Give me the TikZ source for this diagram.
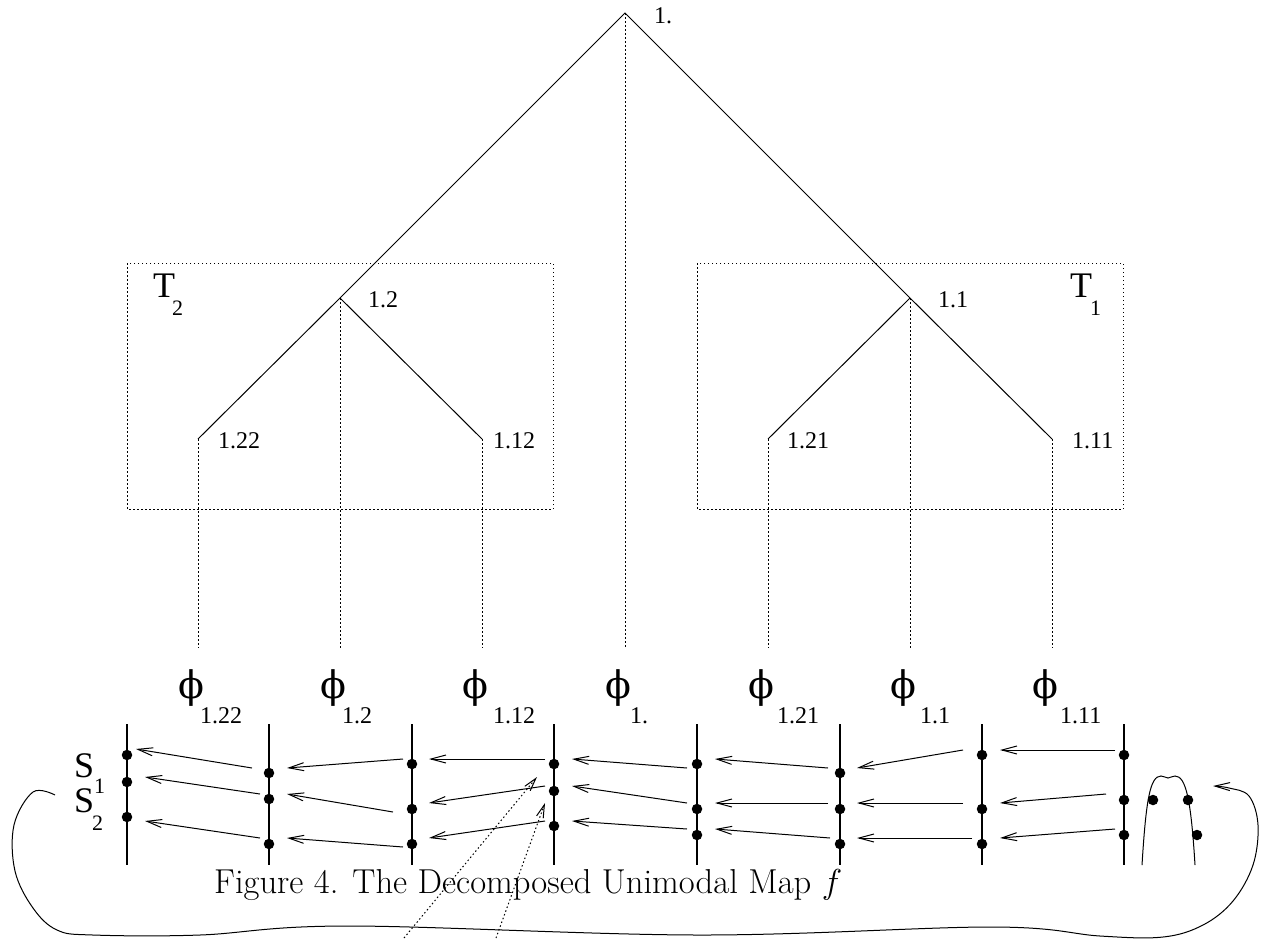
\RequirePackage{fix-cm}
\documentclass[tikz,border=0pt]{standalone}
\usepackage{fontspec}
\newfontfamily\tms{Liberation Serif}
\newfontfamily\phf{DejaVu Serif}
\usetikzlibrary{arrows.meta}
\begin{document}
\begin{tikzpicture}[x=1pt,y=-1pt,
  tree/.style={line width=1pt},
  dots/.style={line width=1pt,dash pattern=on 1.5pt off 2.5pt},
  bold/.style={line width=2.5pt},
  dotn/.style={circle,fill,inner sep=0pt,minimum size=10.5pt},
  arr/.style={line width=1pt,-{Straight Barb[length=15pt,width=8pt]}},
  darr/.style={dots,-{Straight Barb[length=13pt,width=7pt]}},
  lab/.style={font=\tms\fontsize{24}{24}\selectfont,inner sep=0pt,anchor=base west},
  big/.style={font=\tms\fontsize{36}{36}\selectfont,inner sep=0pt,anchor=base west},
  sub/.style={font=\tms\fontsize{22}{22}\selectfont,inner sep=0pt,anchor=base west},
  phil/.style={font=\phf\fontsize{38}{38}\selectfont,inner sep=0pt,anchor=center},
  captext/.style={font=\fontsize{34.6}{35}\selectfont,inner sep=0pt,anchor=base west}]
\useasboundingbox (0,0) rectangle (1276,938);
% tree nodes
\coordinate (n1) at (625,13);
\coordinate (n12) at (340,298);
\coordinate (n11) at (910,298);
\coordinate (n122) at (198,439);
\coordinate (n112) at (482,439);
\coordinate (n121) at (768,439);
\coordinate (n111) at (1052,439);
\coordinate (e) at (0,648);
\draw[tree] (n122) -- (n12) -- (n1) -- (n11) -- (n111);
\draw[tree] (n12) -- (n112);
\draw[tree] (n11) -- (n121);
\foreach \n in {n1,n12,n11,n122,n112,n121,n111}
  \draw[dots] (\n) -- (\n |- e);
% boxes
\draw[dots] (127,263) rectangle (553,509);
\draw[dots] (697,263) rectangle (1123,509);
% tree labels
\node[lab] (l1) at (654,23) {1.};
\node[lab] (l12) at (368,307) {1.2};
\node[lab] (l11) at (938,307) {1.1};
\node[lab] (l122) at (218,448) {1.22};
\node[lab] (l112) at (493,448) {1.12};
\node[lab] (l121) at (787,448) {1.21};
\node[lab] (l111) at (1072,448) {1.11};
\node[big] (t2) at (153,297) {T};
\node[sub] (t2s) at (172,315) {2};
\node[big] (t1) at (1070,297) {T};
\node[sub] (t1s) at (1090,315) {1};
% phi labels
\foreach \x/\s/\o in {198/1.22/2,340/1.2/2,482/1.12/11,625/1./5,768/1.21/9,910/1.1/10,1052/1.11/8}{
  \node[phil] (p\x) at (\x-7,688) {ϕ};
  \node[lab] (ps\x) at (\x+\o,723) {\s};
}
% S labels
\node[big] (s1) at (74,777) {S};
\node[sub] (s1s) at (94,793) {1};
\node[big] (s2) at (74,812) {S};
\node[sub] (s2s) at (92,830) {2};
% vertical bold lines and dots
\foreach \x/\a/\b/\c [count=\j] in {127/755/782/817,269/773/799/844,412/764/809/844,554/764/791/826,697/764/809/835,840/773/809/844,982/755/809/844,1124/755/800/835}{
  \coordinate (top\j) at (\x,724);
  \coordinate (bot\j) at (\x,865);
  \draw[bold] (top\j) -- (bot\j);
  \node[dotn] (d\j a) at (\x,\a) {};
  \node[dotn] (d\j b) at (\x,\b) {};
  \node[dotn] (d\j c) at (\x,\c) {};
}
% arrows
\foreach \tx/\ty/\hx/\hy [count=\i] in {
  252/768/136/749, 260/794/145/777, 260/838/145/821,
  403/759/287/768, 393/812/287/794, 403/847/287/838,
  545/759/429/759, 545/786/429/803, 545/821/429/838,
  687/768/572/759, 687/803/572/786, 687/829/572/821,
  828/768/715/759, 828/803/715/803, 830/838/715/829,
  963/750/857/768, 963/803/857/803, 972/838/857/838,
  1115/750/1000/750, 1106/794/1000/803, 1115/829/1000/838}{
  \coordinate (ta\i) at (\tx,\ty);
  \coordinate (ha\i) at (\hx,\hy);
  \draw[arr] (ta\i) -- (ha\i);
}
% dotted arrows
\coordinate (q1) at (404,938);
\coordinate (q1h) at (537,777);
\coordinate (q2) at (496,938);
\coordinate (q2h) at (545,803);
\draw[darr] (q1) -- (q1h);
\draw[darr] (q2) -- (q2h);
% unimodal graph
\draw[tree] (1142,865) .. controls (1146,800) and (1150,776) .. (1161,776)
  .. controls (1164,776) and (1166,778) .. (1168,778)
  .. controls (1170,778) and (1172,776) .. (1175,776)
  .. controls (1186,776) and (1191,800) .. (1195,865);
\node[dotn] (u1) at (1153,800) {};
\node[dotn] (u2) at (1188,800) {};
\node[dotn] (u3) at (1197,835) {};
% big loop
\draw[line width=1pt,-{Straight Barb[length=15pt,width=8pt]}] plot[smooth,tension=0.6] coordinates {
  (55,795) (33,792) (14,825) (15,871) (33,908) (57,930) (93,935) (200,935)
  (349,926) (699,935) (992,927) (1100,936) (1163,937) (1203,925) (1233,901)
  (1253,865) (1258,825) (1249,796) (1229,788) (1213,786)};
% caption
\node[captext] (capt) at (214,893) {Figure 4. The Decomposed Unimodal Map $f$};
\end{tikzpicture}
\end{document}
